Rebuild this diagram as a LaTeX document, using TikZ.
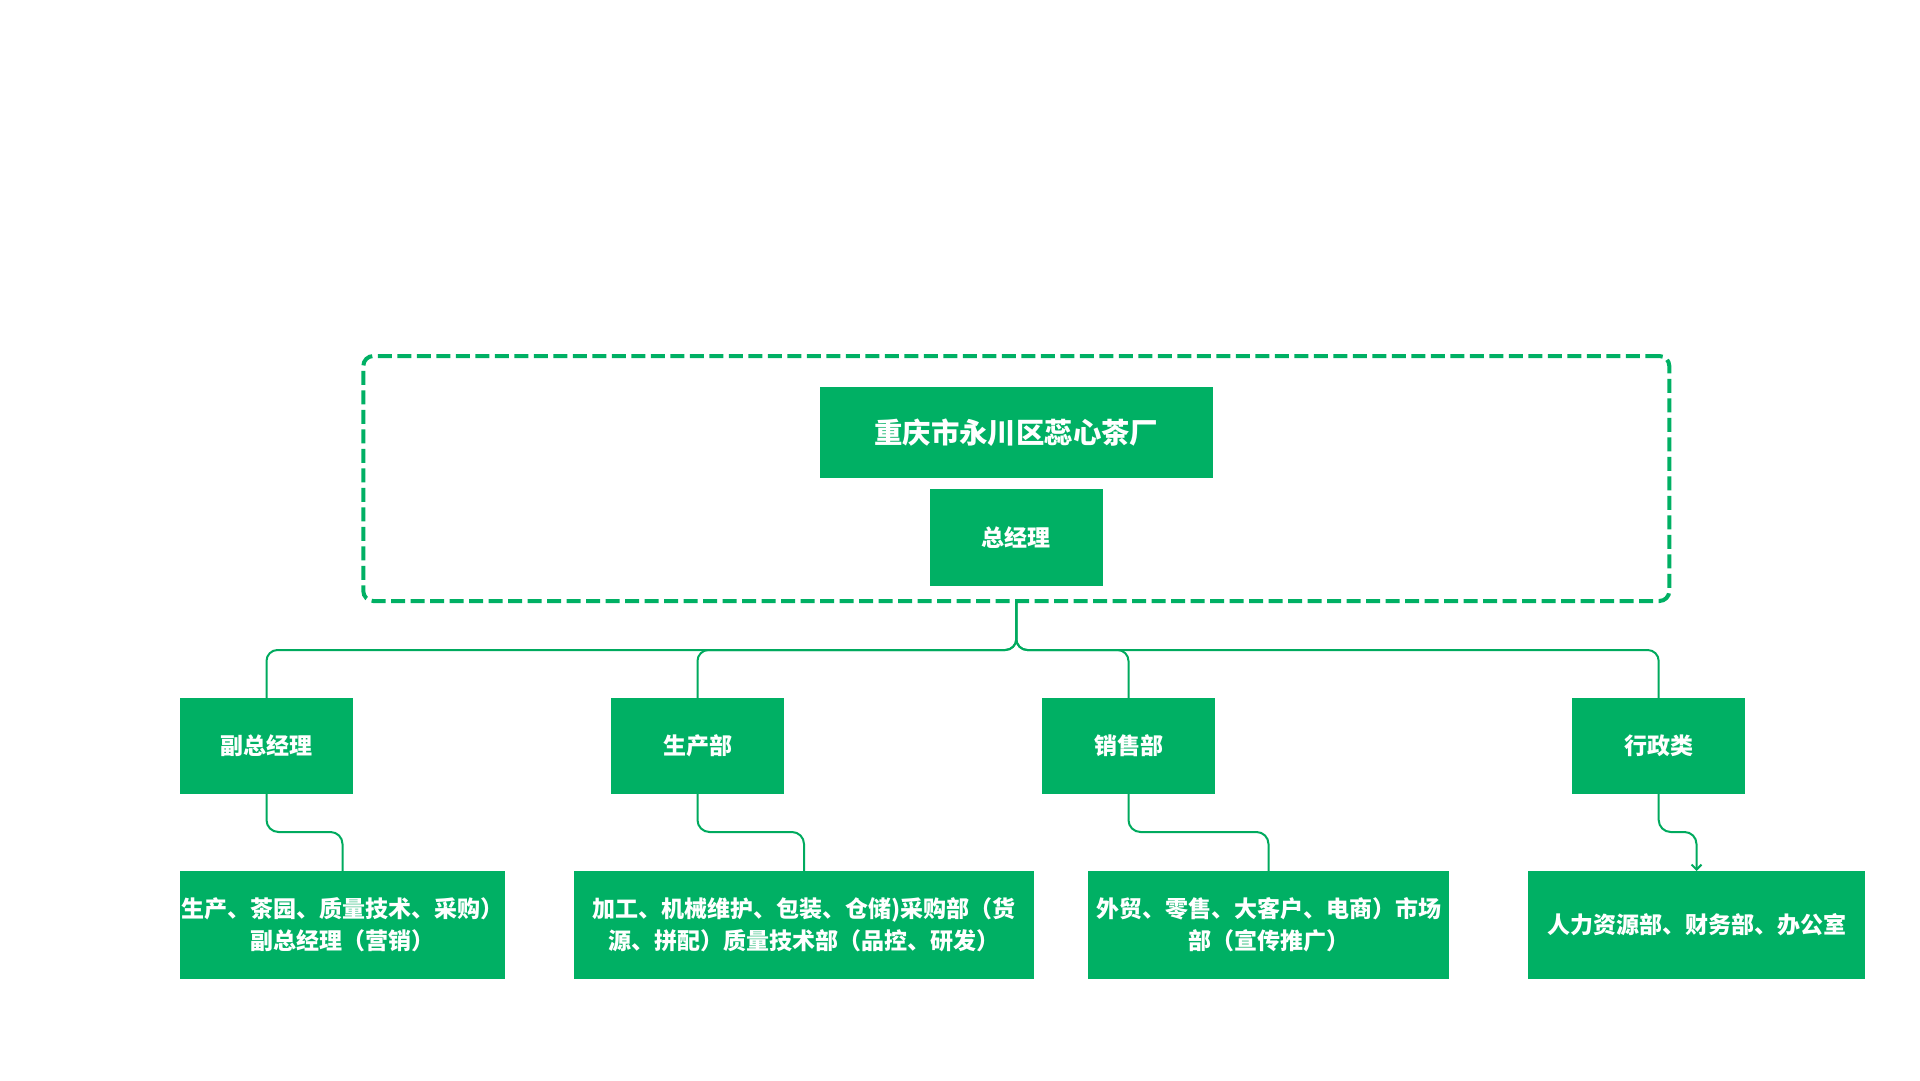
\documentclass[tikz,border=0pt]{standalone}
\usepackage{fontspec}
\newfontfamily\cjk{Noto Sans CJK SC}
\usetikzlibrary{arrows.meta,calc}
\definecolor{tgreen}{HTML}{00B064}
\definecolor{lgreen}{HTML}{00AA5E}
\begin{document}
\begin{tikzpicture}[x=1pt,y=-1pt,
  box/.style={fill=tgreen,text=white,inner sep=0pt,outer sep=0pt,align=center,
    font=\cjk\bfseries\fontsize{23}{32}\selectfont},
  lvtwo/.style={box,minimum width=172.7pt,minimum height=96pt},
  lvthree/.style={box,minimum height=108pt},
  conn/.style={draw=lgreen,line width=2pt,rounded corners=12pt},
  grpbox/.style={draw=tgreen,line width=4pt,dash pattern=on 14pt off 5.5pt,
    rounded corners=10pt,inner sep=0pt,outer sep=0pt}
  ]
\useasboundingbox (0,0) rectangle (1920,1080);
% group
\node[grpbox,minimum width=1306pt,minimum height=245pt] (grp) at (1016.3,478.5) {};
\node[box,minimum width=392.5pt,minimum height=91pt,font=\cjk\bfseries\fontsize{28.4}{34}\selectfont] (title) at (1016.3,432.5) {重庆市永川区蕊心茶厂};
\node[box,minimum width=172.7pt,minimum height=96.5pt] (gm) at (1016.3,537.5) {总经理};
% level 2
\node[lvtwo] (vp) at (266.5,746) {副总经理};
\node[lvtwo] (prod) at (697.5,746) {生产部};
\node[lvtwo] (sales) at (1128.5,746) {销售部};
\node[lvtwo] (admin) at (1658.7,746) {行政类};
% level 3
\node[lvthree,minimum width=325pt] (la) at (342.5,925) {生产、茶园、质量技术、采购）\\副总经理（营销）};
\node[lvthree,minimum width=460pt] (lb) at (804,925) {加工、机械维护、包装、仓储)采购部（货\\源、拼配）质量技术部（品控、研发）};
\node[lvthree,minimum width=361pt] (lc) at (1268.5,925) {外贸、零售、大客户、电商）市场\\部（宣传推广）};
\node[lvthree,minimum width=337pt] (ld) at (1696.5,925) {人力资源部、财务部、办公室};
% bus
\coordinate (bus) at (0,650);
\foreach \n in {vp,prod,sales,admin}
  \draw[conn,rounded corners=11pt] (grp.south) -- (grp.south |- bus) -| (\n.north);
% level 2 to level 3
\draw[conn] (vp.south) -- ++(0,38) -| (la.north);
\draw[conn] (prod.south) -- ++(0,38) -| (lb.north);
\draw[conn] (sales.south) -- ++(0,38) -| (lc.north);
\draw[conn,-{Straight Barb[length=5pt,width=10pt,line width=2pt]}] (admin.south) -- ++(0,38) -| (ld.north);
\end{tikzpicture}
\end{document}
